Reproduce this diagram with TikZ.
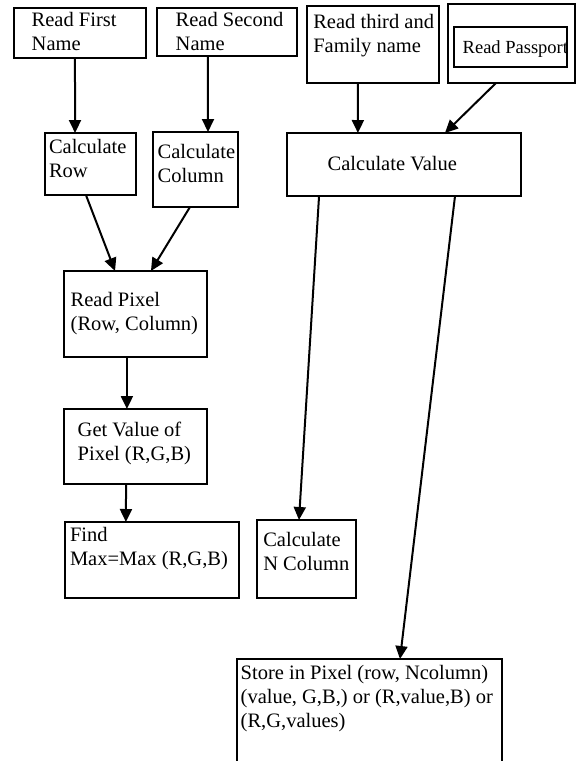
\documentclass[tikz,border=0pt]{standalone}
\usepackage{fontspec}
\setmainfont{Liberation Serif}
\usetikzlibrary{arrows.meta,calc}
\begin{document}
\begin{tikzpicture}[x=1pt,y=-1pt,
  box/.style={draw, line width=2pt, inner sep=0pt, outer sep=0pt, anchor=north west},
  txt/.style={anchor=north west, inner sep=0pt, outer sep=0pt, align=left, font=\fontsize{20.5}{24}\selectfont},
  smalltxt/.style={anchor=north west, inner sep=0pt, outer sep=0pt, align=left, font=\fontsize{18.5}{22}\selectfont},
  arr/.style={line width=2pt, -{Triangle[length=13pt,width=12pt]}}]
\useasboundingbox (0,0) rectangle (576,761);
% boxes
\node[box, minimum width=132pt, minimum height=50pt] (rfn) at (14,8) {};
\node[box, minimum width=140pt, minimum height=48pt] (rsn) at (157,8) {};
\node[box, minimum width=132pt, minimum height=77pt] (rtf) at (307,6) {};
\node[box, minimum width=127pt, minimum height=79pt] (rpo) at (448,4) {};
\node[box, minimum width=113pt, minimum height=40pt] (rpi) at (454,27) {};
\node[box, minimum width=91pt, minimum height=62pt] (crow) at (45,133) {};
\node[box, minimum width=85pt, minimum height=75pt] (ccol) at (153,132) {};
\node[box, minimum width=234pt, minimum height=63pt] (cval) at (287,133) {};
\node[box, minimum width=143pt, minimum height=86pt] (rpx) at (64,271) {};
\node[box, minimum width=143pt, minimum height=75pt] (gv) at (64,409) {};
\node[box, minimum width=174pt, minimum height=76pt] (fmax) at (65,522) {};
\node[box, minimum width=99pt, minimum height=78pt] (ncol) at (257,520) {};
\node[box, minimum width=265pt, minimum height=131pt] (store) at (237,659) {};
% texts
\node[txt] (trfn) at (31.7,9.2) {\strut Read First\\Name};
\node[txt] (trsn) at (175.7,9.2) {\strut Read Second\\Name};
\node[txt] (trtf) at (313.3,11.5) {\strut Read third and\\Family name};
\node[smalltxt] (trpi) at (462.7,37.9) {\strut Read Passport};
\node[txt] (tcrow) at (49,136.5) {\strut Calculate\\Row};
\node[txt] (tccol) at (157.7,141.5) {\strut Calculate\\Column};
\node[txt] (tcval) at (327.7,153.2) {\strut Calculate Value};
\node[txt] (trpx) at (70.7,289.2) {\strut Read Pixel\\(Row, Column)};
\node[txt] (tgv) at (77.7,419.9) {\strut Get Value of\\Pixel (R,G,B)};
\node[txt] (tfmax) at (70,524.9) {\strut Find\\Max=Max (R,G,B)};
\node[txt] (tncol) at (263.3,529.9) {\strut Calculate\\N Column};
\node[txt] (tstore) at (240.7,662.5) {\strut Store in Pixel (row, Ncolumn)\\(value, G,B,) or (R,value,B) or\\(R,G,values)};
% connectors
\draw[arr] ($(rfn.south west)!0.462!(rfn.south east)$) -- ($(crow.north west)!0.33!(crow.north east)$);
\draw[arr] ($(rsn.south west)!0.364!(rsn.south east)$) -- ($(ccol.north west)!0.647!(ccol.north east)$);
\draw[arr] ($(crow.south west)!0.45!(crow.south east)$) -- ($(rpx.north west)!0.357!(rpx.north east)$);
\draw[arr] ($(ccol.south west)!0.435!(ccol.south east)$) -- ($(rpx.north west)!0.608!(rpx.north east)$);
\draw[arr] ($(rpx.south west)!0.44!(rpx.south east)$) -- ($(gv.north west)!0.44!(gv.north east)$);
\draw[arr] ($(gv.south west)!0.434!(gv.south east)$) -- ($(fmax.north west)!0.35!(fmax.north east)$);
\draw[arr] ($(rtf.south west)!0.386!(rtf.south east)$) -- ($(cval.north west)!0.303!(cval.north east)$);
\draw[arr] ($(rpo.south west)!0.378!(rpo.south east)$) -- ($(cval.north west)!0.675!(cval.north east)$);
\draw[arr] ($(cval.south west)!0.137!(cval.south east)$) -- ($(ncol.north west)!0.424!(ncol.north east)$);
\draw[arr] ($(cval.south west)!0.718!(cval.south east)$) -- ($(store.north west)!0.615!(store.north east)$);
\end{tikzpicture}
\end{document}
